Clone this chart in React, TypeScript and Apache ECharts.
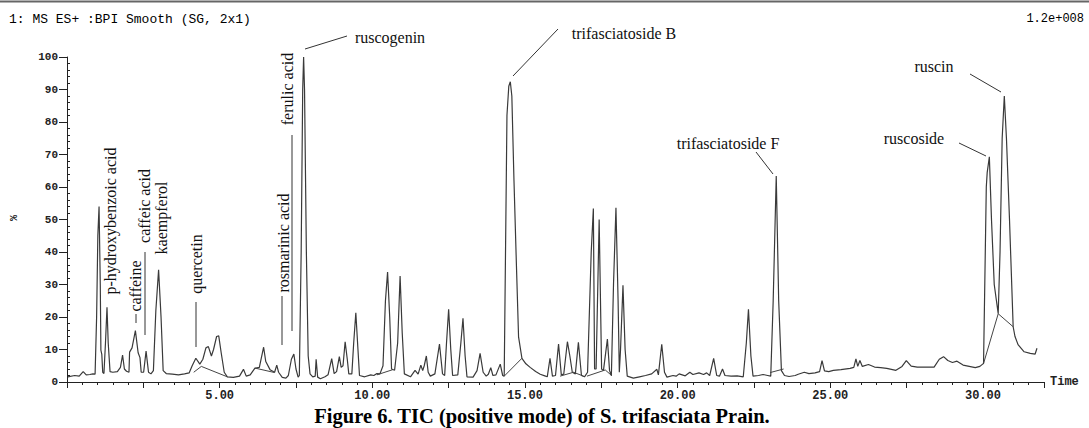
import React, { useEffect, useRef } from "react";
import * as echarts from "echarts";

// TIC trace: [retention time (min), relative intensity (%)]
const ticTrace: [number, number][] = [
  [0.03, 1.6], [0.25, 2.0], [0.4, 1.8], [0.53, 3.2], [0.63, 2.2], [0.75, 2.3], [0.85, 2.5], [0.92, 2.4],
  [0.97, 20], [1.01, 45], [1.05, 54], [1.09, 30], [1.11, 9.8], [1.14, 8.5], [1.17, 3.0],
  [1.21, 2.6], [1.26, 12], [1.31, 23], [1.35, 12], [1.41, 3.2],
  [1.5, 3.0], [1.65, 3.2], [1.75, 4.5], [1.82, 8.3], [1.88, 4.0], [1.95, 3.3],
  [2.03, 3.0], [2.05, 9.2], [2.13, 10.5], [2.24, 15.8], [2.33, 9.0], [2.39, 7.5], [2.43, 3.0],
  [2.51, 3.0], [2.59, 9.5], [2.67, 3.0], [2.75, 2.5],
  [2.83, 3.5], [2.91, 22], [3.0, 34.5], [3.08, 20], [3.15, 3.5], [3.25, 2.6],
  [3.45, 2.4], [3.65, 2.2], [3.85, 2.5], [4.0, 2.8],
  [4.1, 5], [4.22, 7.3], [4.35, 5.5], [4.45, 7], [4.55, 10.5], [4.63, 10.9], [4.73, 8], [4.8, 10],
  [4.9, 14], [4.97, 14.2], [5.05, 9], [5.15, 3], [5.25, 1.6], [5.45, 1.4], [5.65, 1.8], [5.78, 3.9],
  [5.87, 1.8], [6.0, 2.2], [6.15, 4.2], [6.3, 4.5], [6.44, 10.7], [6.51, 6.3], [6.65, 3.8], [6.8, 3.0],
  [6.87, 5.2], [6.93, 3], [7.05, 1.4], [7.17, 1.2], [7.25, 2.0], [7.35, 7], [7.43, 8.6], [7.5, 4], [7.57, 1.5],
  [7.61, 2], [7.67, 40], [7.72, 90], [7.75, 100], [7.78, 90], [7.84, 40], [7.9, 8], [7.96, 2.5], [8.05, 1.6],
  [8.13, 1.8], [8.16, 7.0], [8.21, 1.5], [8.3, 1.0], [8.45, 1.6], [8.55, 2.2], [8.67, 7.2], [8.75, 2.6],
  [8.83, 3.2], [8.92, 7.8], [8.98, 4.5], [9.04, 5], [9.11, 12.4], [9.18, 7], [9.23, 2.5], [9.33, 2.5],
  [9.39, 12], [9.46, 21.3], [9.53, 10], [9.58, 2.0], [9.75, 1.6], [9.95, 2.2], [10.05, 2.0], [10.15, 2.6],
  [10.25, 2.5], [10.35, 5], [10.43, 25], [10.5, 33.8], [10.57, 20], [10.63, 4], [10.73, 3.6], [10.83, 12],
  [10.91, 32.6], [10.98, 15], [11.05, 2.5], [11.25, 1.6], [11.4, 3.6], [11.5, 2.4], [11.59, 5.2], [11.65, 3.5],
  [11.7, 5], [11.77, 8.0], [11.83, 3.0], [11.9, 1.8], [12.05, 2.5], [12.2, 11.7], [12.3, 2.5], [12.37, 2.0],
  [12.43, 12], [12.5, 22.4], [12.57, 10], [12.63, 2.0], [12.8, 2.2], [12.9, 12], [12.97, 19.6], [13.04, 8],
  [13.1, 1.6], [13.3, 1.5], [13.43, 3.5], [13.53, 8.8], [13.63, 3], [13.73, 1.8], [13.8, 2.4], [13.88, 4.4],
  [13.95, 2.0], [14.05, 2.2], [14.19, 5.5], [14.27, 2.0], [14.32, 1.8],
  [14.41, 82], [14.47, 91], [14.52, 92.4], [14.57, 88], [14.64, 62], [14.72, 36], [14.79, 13.9], [14.9, 7.3],
  [15.03, 5.6], [15.17, 4.5], [15.35, 3.2], [15.5, 2.4], [15.65, 1.9], [15.73, 1.6], [15.82, 7.3], [15.9, 1.8],
  [16.0, 2.0], [16.1, 11.7], [16.19, 2.2], [16.27, 2.4], [16.39, 12.4], [16.47, 8], [16.55, 3], [16.65, 2.5],
  [16.75, 12.2], [16.85, 2.0], [16.95, 1.6], [17.05, 3], [17.17, 40], [17.24, 53.4], [17.28, 4], [17.33, 4],
  [17.43, 50], [17.51, 4], [17.57, 3.5], [17.7, 13.2], [17.77, 3.5], [17.83, 2], [17.9, 30], [17.98, 53.6],
  [18.05, 25], [18.09, 3], [18.13, 10], [18.21, 29.8], [18.28, 10], [18.35, 1.8], [18.55, 1.2], [18.75, 1.6],
  [18.95, 2.0], [19.15, 2.5], [19.32, 3.9], [19.37, 2.2], [19.48, 11.6], [19.57, 3], [19.65, 1.5], [19.85, 2.0],
  [19.95, 1.8], [20.05, 2.5], [20.25, 1.9], [20.4, 3.0], [20.5, 2.3], [20.7, 2.8], [20.85, 2.3], [20.95, 2.8],
  [21.05, 2.0], [21.18, 7.3], [21.28, 2.0], [21.37, 1.8], [21.47, 4.0], [21.55, 2.0], [21.75, 1.8], [21.95, 1.9],
  [22.15, 1.6], [22.25, 12], [22.32, 22.4], [22.4, 8], [22.47, 1.8], [22.65, 2.0], [22.8, 2.3], [22.95, 2.0],
  [23.05, 1.8], [23.13, 25], [23.23, 63.4], [23.31, 25], [23.4, 3.5], [23.5, 2.0], [23.65, 1.7], [23.85, 2.0],
  [23.95, 2.4], [24.15, 3.0], [24.3, 2.6], [24.5, 2.8], [24.65, 3.2], [24.73, 6.6], [24.81, 3.4], [24.95, 3.2],
  [25.1, 3.6], [25.35, 3.8], [25.65, 4.2], [25.77, 4.5], [25.84, 7.1], [25.9, 4.8], [25.97, 6.6], [26.05, 4.8],
  [26.25, 5.4], [26.45, 4.6], [26.65, 4.4], [26.85, 4.2], [27.15, 3.6], [27.35, 4.8], [27.49, 6.6], [27.65, 4.9],
  [27.85, 4.6], [28.15, 4.6], [28.4, 4.6], [28.57, 7.0], [28.71, 7.8], [28.85, 6.6], [29.0, 6.0], [29.15, 6.4],
  [29.35, 5.2], [29.55, 4.8], [29.75, 4.4], [29.9, 4.8], [29.99, 5.5],
  [30.02, 5.7], [30.11, 60], [30.14, 64.5], [30.21, 69.3], [30.28, 50], [30.37, 30], [30.5, 21],
  [30.56, 40], [30.63, 75], [30.7, 88], [30.77, 75], [30.87, 50], [30.99, 17], [31.05, 14], [31.15, 11.5],
  [31.35, 9.3], [31.55, 8.8], [31.71, 8.6], [31.77, 10.4],
];

// Integration baselines drawn under merged peaks (null breaks the segments)
const baselineSegments: ([number, number] | null)[] = [
  [4.15, 3.0], [4.4, 4.8], [5.25, 1.6], null,
  [6.15, 4.3], [6.8, 2.9], null,
  [10.15, 2.2], [10.67, 3.8], null,
  [14.32, 1.8], [14.9, 7.3], null,
  [16.15, 1.8], [16.59, 3.0], [16.92, 1.8], null,
  [17.03, 1.8], [17.63, 3.7], [17.85, 1.9], null,
  [23.03, 2.9], [23.47, 4.0], null,
  [30.02, 5.7], [30.5, 21], [30.99, 17],
];

const yTicks = [0, 10, 20, 30, 40, 50, 60, 70, 80, 90, 100];
const xLabelTimes = [5, 10, 15, 20, 25, 30];

const verticalLabels = [
  { text: "p-hydroxybenzoic acid", x: 110, y: 221 },
  { text: "caffeine", x: 135, y: 286 },
  { text: "caffeic acid", x: 144, y: 206 },
  { text: "kaempferol", x: 161, y: 218 },
  { text: "quercetin", x: 196, y: 264 },
  { text: "rosmarinic acid", x: 283, y: 243 },
  { text: "ferulic acid", x: 287, y: 89 },
];

const horizontalLabels = [
  { text: "ruscogenin", x: 390, y: 37 },
  { text: "trifasciatoside B", x: 624, y: 33 },
  { text: "trifasciatoside F", x: 728, y: 143 },
  { text: "ruscin", x: 934, y: 66 },
  { text: "ruscoside", x: 914, y: 138 },
];

const leaderLines = [
  [136, 314, 136, 323],
  [145, 252, 145, 335],
  [196, 302, 196, 347],
  [282, 296, 282, 345],
  [292, 135, 292, 331],
  [305, 49, 347, 36],
  [513, 76, 558, 29],
  [756, 152, 773, 174],
  [970, 74, 1001, 92],
  [959, 143, 986, 156],
];

export default function App() {
  const ref = useRef<HTMLDivElement>(null);
  useEffect(() => {
    if (!ref.current) return;
    const chart = echarts.init(ref.current, null, { renderer: "svg" });
    const serif = "'Liberation Serif', 'Times New Roman', serif";
    const mono = "'Liberation Mono', 'Courier New', monospace";
    const graphics: any[] = [
      { type: "rect", shape: { x: 0, y: 0.5, width: 1089, height: 2 }, style: { fill: "#666" } },
      {
        type: "text", x: 9, y: 19,
        style: { text: "1: MS ES+ :BPI Smooth (SG, 2x1)", font: `13px ${mono}`, fill: "#000", textVerticalAlign: "middle" },
      },
      {
        type: "text", x: 1084, y: 19,
        style: { text: "1.2e+008", font: `12px ${mono}`, fill: "#000", textAlign: "right", textVerticalAlign: "middle" },
      },
      {
        type: "text", x: 14, y: 218, rotation: Math.PI / 2,
        style: { text: "%", font: `bold 10px ${mono}`, fill: "#222", textAlign: "center", textVerticalAlign: "middle" },
      },
      {
        type: "text", x: 542, y: 416,
        style: {
          text: "Figure 6. TIC (positive mode) of S. trifasciata Prain.",
          font: `bold 20.5px ${serif}`, fill: "#000", textAlign: "center", textVerticalAlign: "middle",
        },
      },
    ];
    verticalLabels.forEach((l) =>
      graphics.push({
        type: "text", x: l.x, y: l.y, rotation: Math.PI / 2,
        style: { text: l.text, font: `16px ${serif}`, fill: "#111", textAlign: "center", textVerticalAlign: "middle" },
      })
    );
    horizontalLabels.forEach((l) =>
      graphics.push({
        type: "text", x: l.x, y: l.y,
        style: { text: l.text, font: `16px ${serif}`, fill: "#111", textAlign: "center", textVerticalAlign: "middle" },
      })
    );
    leaderLines.forEach((s) =>
      graphics.push({
        type: "line", shape: { x1: s[0], y1: s[1], x2: s[2], y2: s[3] },
        style: { stroke: "#333", lineWidth: 1 },
      })
    );

    chart.setOption({
      animation: false,
      backgroundColor: "#fff",
      grid: { left: 67, right: 45, top: 57, bottom: 46, containLabel: false },
      xAxis: {
        type: "value",
        min: 0,
        max: 32,
        interval: 2.5,
        name: "Time",
        nameLocation: "end",
        nameGap: 6,
        nameTextStyle: { fontFamily: mono, fontWeight: "bold", fontSize: 12, color: "#222" },
        axisLine: { show: true, lineStyle: { color: "#222", width: 1 } },
        axisTick: { show: true, length: 6, lineStyle: { color: "#222" } },
        minorTick: { show: true, splitNumber: 5, length: 3, lineStyle: { color: "#222" } },
        splitLine: { show: false },
        axisLabel: {
          margin: 8,
          fontFamily: mono,
          fontWeight: "bold",
          fontSize: 12,
          color: "#222",
          showMinLabel: false,
          showMaxLabel: false,
          formatter: (v: number) => (xLabelTimes.indexOf(v) >= 0 ? v.toFixed(2) : ""),
        },
      },
      yAxis: [
        {
          type: "value",
          min: 0,
          max: 100,
          interval: 10,
          axisLine: { show: true, lineStyle: { color: "#222", width: 1 } },
          axisTick: { show: true, length: 8, lineStyle: { color: "#222" } },
          splitLine: { show: false },
          axisLabel: {
            margin: 9,
            fontFamily: mono,
            fontWeight: "bold",
            fontSize: 11,
            color: "#222",
            formatter: (v: number) => (yTicks.indexOf(v) >= 0 ? String(v) : ""),
          },
        },
        {
          type: "value",
          min: 0,
          max: 100,
          interval: 10,
          position: "left",
          axisLine: { show: false },
          axisTick: { show: false, inside: true },
          minorTick: { show: true, splitNumber: 5, length: 3, lineStyle: { color: "#222" } },
          splitLine: { show: false },
          axisLabel: { show: false },
        },
      ],
      series: [
        {
          type: "line",
          data: ticTrace,
          showSymbol: false,
          symbol: "none",
          lineStyle: { color: "#3a3a3a", width: 1.2 },
          silent: true,
        },
        {
          type: "line",
          data: baselineSegments.map((p) => (p ? p : [null, null])),
          connectNulls: false,
          showSymbol: false,
          symbol: "none",
          lineStyle: { color: "#444", width: 1 },
          silent: true,
        },
      ],
      graphic: graphics,
    });
    return () => chart.dispose();
  }, []);
  return <div ref={ref} style={{ position: "absolute", left: 0, top: 0, width: 1089, height: 428 }} />;
}
